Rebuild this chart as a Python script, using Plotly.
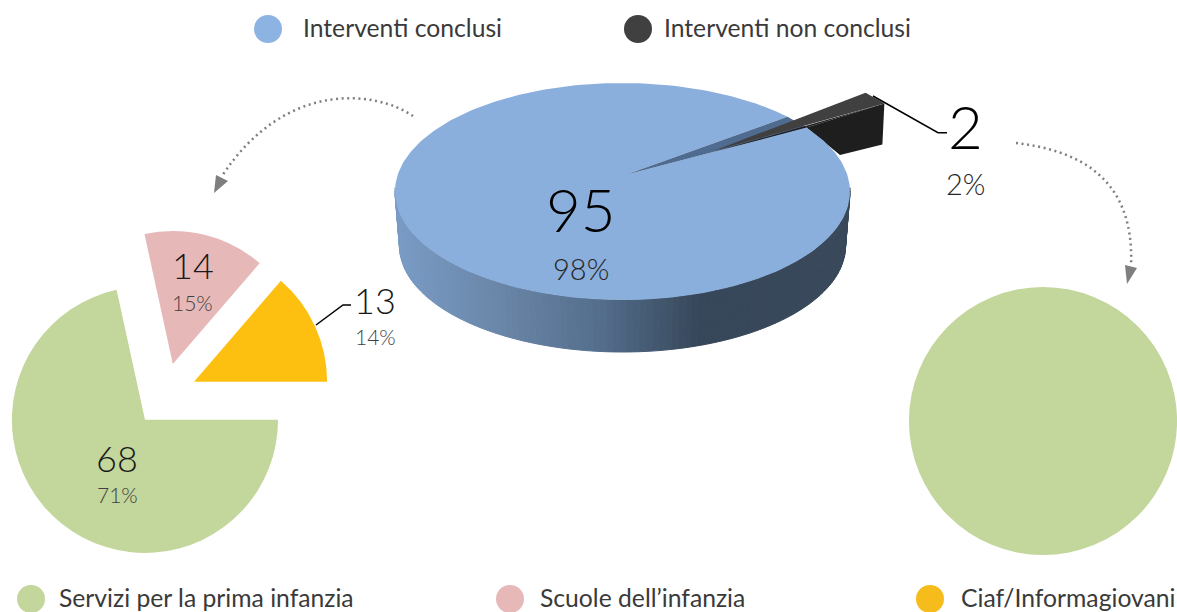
import numpy as np
import plotly.graph_objects as go

# --- data -------------------------------------------------------------
MAIN_LABELS = ["Interventi conclusi", "Interventi non conclusi"]
MAIN_VALUES = [95, 2]
MAIN_PCT = ["98%", "2%"]
SUB_LABELS = ["Servizi per la prima infanzia", "Scuole dell’infanzia", "Ciaf/Informagiovani"]
LEFT_VALUES = [68, 14, 13]
LEFT_PCT = ["71%", "15%", "14%"]
RIGHT_VALUES = [2, 0, 0]

BLUE, DARK = "#8AAFDC", "#404040"
SUB_COLORS = ["#C3D69B", "#E6B9B8", "#FDC010"]
NUM_FONT = "Lato"
LEG_FONT = "Lato"
W, H = 1177, 612


def dom_x(a, b):
    return [a / W, b / W]


def dom_y(top, bottom):
    return [1 - bottom / H, 1 - top / H]


fig = go.Figure()
shapes = []

# --- central pseudo-3D pie, angles derived from the values ---------------
cx, cy, rx, ry = 622.5, 191.5, 227.5, 108.5
bx, by, brx, bry = 622.5, 246.0, 223.0, 106.0
apex = np.array([625.0, 175.0])
start = np.radians(46.5)
sweep = 2 * np.pi * MAIN_VALUES[1] / sum(MAIN_VALUES)
end = start + sweep


def rim(t):
    return np.array([cx + rx * np.sin(t), cy - ry * np.cos(t)])


def lerp_color(x):
    stops = [(395, (122, 156, 198)), (500, (106, 134, 168)), (600, (84, 110, 140)),
             (700, (55, 71, 90)), (850, (58, 74, 92))]
    xs = [s[0] for s in stops]
    c = [int(np.interp(x, xs, [s[1][i] for s in stops])) for i in range(3)]
    return f"rgb({c[0]},{c[1]},{c[2]})"


# gradient wall of the main disc
ts = np.radians(np.linspace(88, 272, 110))
for a, b in zip(ts[:-1], ts[1:]):
    p = [
        (cx + rx * np.sin(a), cy - ry * np.cos(a)),
        (cx + rx * np.sin(b), cy - ry * np.cos(b)),
        (bx + brx * np.sin(b), by - bry * np.cos(b)),
        (bx + brx * np.sin(a), by - bry * np.cos(a)),
    ]
    col = lerp_color((p[0][0] + p[1][0]) / 2)
    path = "M " + " L ".join(f"{x:.2f} {y:.2f}" for x, y in p) + " Z"
    shapes.append(dict(type="path", path=path, xref="x", yref="y", layer="below",
                       fillcolor=col, line=dict(color=col, width=1)))


def poly(xs, ys, color):
    fig.add_trace(go.Scatter(x=list(xs), y=list(ys), mode="lines", fill="toself",
                             fillcolor=color, line=dict(color=color, width=0),
                             hoverinfo="skip", showlegend=False))


# wall of the pulled-out slice
out_tip = rim(end) + np.array([78.0, -24.0])
out_low = out_tip + np.array([-2.0, 41.0])
behind = np.array([840.0, 155.0])
poly([rim(end)[0], out_tip[0], out_low[0], behind[0]],
     [rim(end)[1], out_tip[1], out_low[1], behind[1]], "#1E1E1E")

# main slice top
tt = np.linspace(end, start + 2 * np.pi, 300)
top = np.array([rim(t) for t in tt])
poly(np.r_[apex[0], top[:, 0]], np.r_[apex[1], top[:, 1]], BLUE)

# cut of the main slice
r0, r1 = rim(start), rim(end)
poly([apex[0], r0[0], r1[0]], [apex[1], r0[1], r1[1]], "#4F6B90")

# pulled-out slice
inner = apex + 0.49 * (r1 - apex)
poly([inner[0], r1[0], out_tip[0]], [inner[1], r1[1], out_tip[1]], "#1E1E1E")
tt2 = np.linspace(start, end, 12)
arc = np.array([rim(t) for t in tt2]) + np.array([78.0, -24.0])
poly(np.r_[inner[0], arc[:, 0]], np.r_[inner[1] - 1, arc[:, 1]], DARK)

# arrow heads
poly([214, 216, 228], [193, 175, 181], "#7F7F7F")
poly([1127, 1125, 1137], [284, 265, 268], "#7F7F7F")

# --- left pie -------------------------------------------------------------
fig.add_trace(go.Pie(values=LEFT_VALUES, labels=SUB_LABELS, sort=False, direction="clockwise",
                     rotation=90, pull=[0.24, 0.24, 0.24], textinfo="none", hoverinfo="skip",
                     marker=dict(colors=SUB_COLORS, line=dict(width=0)), showlegend=False,
                     domain=dict(x=dom_x(0, 330), y=dom_y(229, 561))))
# --- right pie ------------------------------------------------------------
fig.add_trace(go.Pie(values=RIGHT_VALUES, labels=SUB_LABELS, sort=False, direction="clockwise",
                     rotation=0, textinfo="none", hoverinfo="skip",
                     marker=dict(colors=SUB_COLORS, line=dict(width=0)), showlegend=False,
                     domain=dict(x=dom_x(909, 1177), y=dom_y(287, 555))))

# --- legend dots ----------------------------------------------------------
fig.add_trace(go.Scatter(x=[268, 638], y=[29, 29], mode="markers", hoverinfo="skip", showlegend=False,
                         marker=dict(size=28, color=["#8DB3E2", DARK], line=dict(width=0))))
fig.add_trace(go.Scatter(x=[31, 510, 930], y=[599, 599, 599], mode="markers", hoverinfo="skip",
                         showlegend=False,
                         marker=dict(size=28, color=["#C3D69B", "#E6B9B8", "#F6BC1C"], line=dict(width=0))))

# --- connector and dotted lines -------------------------------------------
for path, col, w, dash in [
    ("M 413 116 C 375 90, 285 80, 222 176", "#7F7F7F", 2.5, "2px,3.6px"),
    ("M 1016 143 C 1075 150, 1135 175, 1131 266", "#7F7F7F", 2.5, "2px,3.6px"),
    ("M 873 96 L 938 132.7 L 947 132.7", "#000000", 1.5, "solid"),
    ("M 316 325 L 343 305 L 351 305", "#000000", 1.5, "solid"),
]:
    shapes.append(dict(type="path", path=path, xref="x", yref="y", layer="above",
                       line=dict(color=col, width=w, dash=dash)))

# --- texts -----------------------------------------------------------------
ann = []


def txt(x, y, s, size, font=NUM_FONT, weight=300, color="#1a1a1a", anchor="center"):
    ann.append(dict(x=x, y=y, xref="x", yref="y", text=s, showarrow=False, xanchor=anchor,
                    yanchor="middle", font=dict(family=font, size=size, color=color, weight=weight)))


txt(581, 209, str(MAIN_VALUES[0]), 60, color="#000000")
txt(581, 268, MAIN_PCT[0], 29, color="#262626")
txt(965, 126, str(MAIN_VALUES[1]), 60, color="#000000")
txt(965, 183, MAIN_PCT[1], 29, color="#262626")
txt(117, 458, str(LEFT_VALUES[0]), 36)
txt(117, 494, LEFT_PCT[0], 21, color="#404040")
txt(193, 265, str(LEFT_VALUES[1]), 36)
txt(192, 302, LEFT_PCT[1], 21, color="#404040")
txt(375, 300, str(LEFT_VALUES[2]), 36)
txt(375, 336, LEFT_PCT[2], 21, color="#404040")

txt(301, 27, MAIN_LABELS[0], 24.7, font=LEG_FONT, weight=400, color="#3a3a3a", anchor="left")
txt(662, 27, MAIN_LABELS[1], 24.7, font=LEG_FONT, weight=400, color="#3a3a3a", anchor="left")
txt(57, 597, SUB_LABELS[0], 24.7, font=LEG_FONT, weight=400, color="#3a3a3a", anchor="left")
txt(538, 597, SUB_LABELS[1], 24.7, font=LEG_FONT, weight=400, color="#3a3a3a", anchor="left")
txt(959, 597, SUB_LABELS[2], 24.7, font=LEG_FONT, weight=400, color="#3a3a3a", anchor="left")

fig.update_layout(
    width=W, height=H, margin=dict(l=0, r=0, t=0, b=0), autosize=False,
    paper_bgcolor="white", plot_bgcolor="white", showlegend=False,
    xaxis=dict(range=[0, W], visible=False, fixedrange=True, domain=[0, 1]),
    yaxis=dict(range=[H, 0], visible=False, fixedrange=True, domain=[0, 1]),
    shapes=shapes, annotations=ann,
)
fig.write_html("out.html", config=dict(displayModeBar=False),
               post_script="document.body.style.margin='0';")
